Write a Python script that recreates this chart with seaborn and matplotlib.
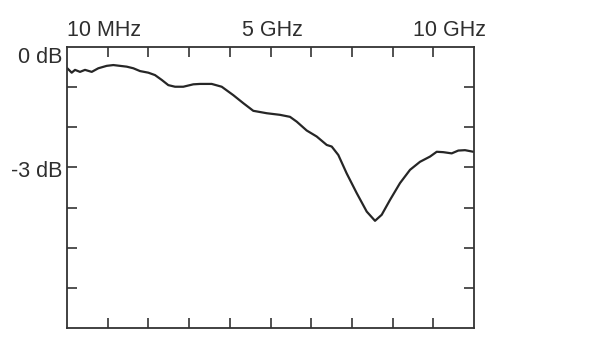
import matplotlib
matplotlib.use("Agg")
import matplotlib.pyplot as plt
import seaborn as sns
import pandas as pd

# Frequency (GHz) and response (dB)
freq_ghz = [0.007, 0.115, 0.197, 0.319, 0.442, 0.607, 0.769, 0.975, 1.138, 1.302,
            1.467, 1.629, 1.794, 1.998, 2.162, 2.327, 2.489, 2.654, 2.857, 3.103,
            3.268, 3.555, 3.801, 4.086, 4.332, 4.577, 4.907, 5.233, 5.479, 5.644,
            5.889, 6.135, 6.381, 6.504, 6.666, 6.872, 7.118, 7.364, 7.568, 7.732,
            7.936, 8.182, 8.428, 8.673, 8.919, 9.084, 9.246, 9.452, 9.614, 9.779,
            9.983]
gain_db = [-0.53, -0.64, -0.57, -0.62, -0.57, -0.62, -0.53, -0.47, -0.45, -0.47,
           -0.49, -0.53, -0.60, -0.64, -0.70, -0.82, -0.95, -0.99, -0.99, -0.93,
           -0.92, -0.92, -0.99, -1.20, -1.40, -1.59, -1.65, -1.69, -1.74, -1.86,
           -2.08, -2.23, -2.44, -2.48, -2.69, -3.15, -3.64, -4.10, -4.33, -4.18,
           -3.81, -3.39, -3.06, -2.86, -2.73, -2.61, -2.62, -2.65, -2.58, -2.57,
           -2.61]

x_labels = ["10 MHz", "5 GHz", "10 GHz"]
x_label_pos = [0.0, 4.30, 8.50]
y_labels = ["0 dB", "-3 dB"]
y_label_pos = [-0.27, -3.11]

sns.set_theme(style="white")
plt.rcParams["font.family"] = ["Liberation Sans", "DejaVu Sans"]

df = pd.DataFrame({"freq": freq_ghz, "gain": gain_db})

fig = plt.figure(figsize=(6.0, 3.44), dpi=100)
ax = fig.add_axes([0.1117, 0.0465, 0.6783, 0.8169])
sns.lineplot(data=df, x="freq", y="gain", ax=ax, color="#262626", linewidth=1.6)
for ln in ax.get_lines():
    ln.set_solid_joinstyle("round")
    ln.set_solid_capstyle("round")

ax.set_xlim(0, 10)
ax.set_ylim(-7, 0)
ax.set_xticks(range(1, 10))
ax.set_yticks(range(-6, 0))
ax.set_xticklabels([])
ax.set_yticklabels([])
ax.set_xlabel("")
ax.set_ylabel("")
ax.tick_params(axis="both", which="both", direction="in", length=7, width=1.2,
               color="#333333", top=True, right=True, bottom=True, left=True)
for s in ax.spines.values():
    s.set_visible(True)
    s.set_color("#333333")
    s.set_linewidth(1.3)

for lab, xp in zip(x_labels, x_label_pos):
    ax.text(xp, 0.40, lab, ha="left", va="center", fontsize=15.5,
            color="#2e2e2e", clip_on=False)
for lab, yp in zip(y_labels, y_label_pos):
    ax.text(-0.12, yp, lab, ha="right", va="center", fontsize=15.5,
            color="#2e2e2e", clip_on=False)

fig.savefig("out.png", dpi=100, facecolor="white")
